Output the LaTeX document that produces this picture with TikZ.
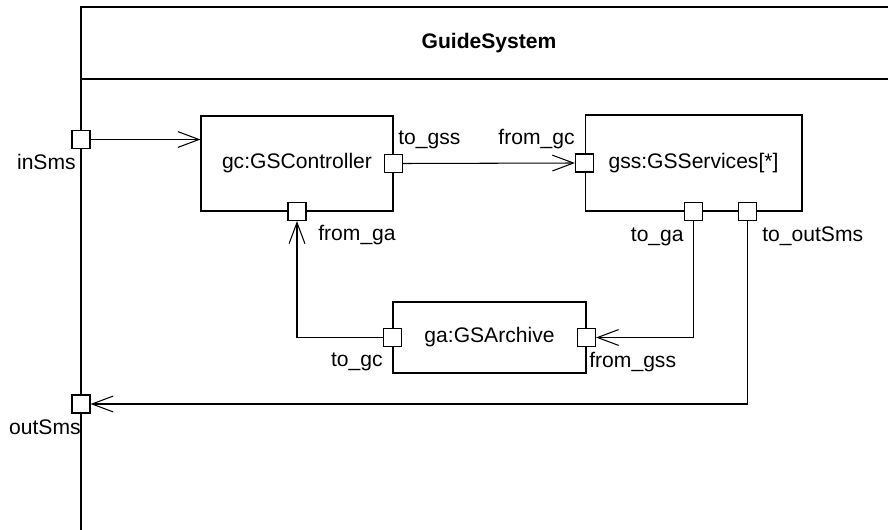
\documentclass[tikz,border=0pt]{standalone}
\usepackage{fontspec}
\setmainfont{Liberation Sans}
\usetikzlibrary{arrows.meta,calc}

\tikzset{
  part/.style={draw, line width=0.6pt, inner sep=0pt},
  port/.style={draw, fill=white, line width=0.6pt, minimum size=0.36cm, inner sep=0pt},
  lbl/.style={inner sep=0pt},
  conn/.style={line width=0.6pt, -{Straight Barb[length=12pt,width=9pt]}},
}

\begin{document}
\begin{tikzpicture}[x=0.02cm, y=-0.02cm, font=\fontsize{12}{14}\selectfont]
			\useasboundingbox (0,0) rectangle (888,530);
			
			%%%%% FRAME %%%%%
			\draw[line width=0.6pt] (888,7) -- (81,7) -- (81,530);
			\draw[line width=0.6pt] (81,79) -- (888,79);
			\node[lbl, font=\fontsize{12}{14}\selectfont\bfseries, anchor=base] (title) at (489,49) {GuideSystem};
			
			%%%%% PARTS %%%%%
			\node[part, minimum width=3.84cm, minimum height=1.9cm] (gc) at (297,163.5) {gc:GSController};
			\node[part, minimum width=4.34cm, minimum height=1.92cm] (gss) at (693.5,163) {gss:GSServices[*]};
			\node[part, minimum width=3.86cm, minimum height=1.42cm] (ga) at (489.5,337.5) {ga:GSArchive};
			
			%%%%% PORTS %%%%%
			\node[port] (inSms) at (81,139.5) {};
			\node[port] (outSms) at (81,404) {};
			\node[port] (gcToGss) at (gc.east) {};
			\node[port] (gcFromGa) at (gc.south) {};
			\node[port] (gssFromGc) at (gss.west) {};
			\node[port] (gssToGa) at (gss.south) {};
			\node[port] (gssToOut) at ($(gss.south)+(54,0)$) {};
			\node[port] (gaToGc) at (ga.west) {};
			\node[port] (gaFromGss) at (ga.east) {};
			
			%%%%% CONNECTORS %%%%%
			\draw[conn] (inSms.east) -- (inSms.east -| gc.west);
			\draw[conn] (gcToGss.east) -- (gssFromGc.west);
			\draw[conn] (gaToGc.west) -| (gcFromGa.south);
			\draw[conn] (gssToGa.south) |- (gaFromGss.east);
			\draw[conn] (gssToOut.south) |- (outSms.east);
			
			%%%%% PORT NAMES %%%%%
			\node[lbl, anchor=base east] (inSmsLbl) at (76,170) {inSms};
			\node[lbl, anchor=base east] (outSmsLbl) at (81,434) {outSms};
			\node[lbl, anchor=base west] (toGssLbl) at (398,145) {to\_gss};
			\node[lbl, anchor=base east] (fromGcLbl) at (575,145) {from\_gc};
			\node[lbl, anchor=base west] (fromGaLbl) at (318,240) {from\_ga};
			\node[lbl, anchor=base east] (toGaLbl) at (684,241) {to\_ga};
			\node[lbl, anchor=base west] (toOutLbl) at (762,241) {to\_outSms};
			\node[lbl, anchor=base east] (toGcLbl) at (383,366) {to\_gc};
			\node[lbl, anchor=base west] (fromGssLbl) at (589,367) {from\_gss};
			
		\end{tikzpicture}
\end{document}
